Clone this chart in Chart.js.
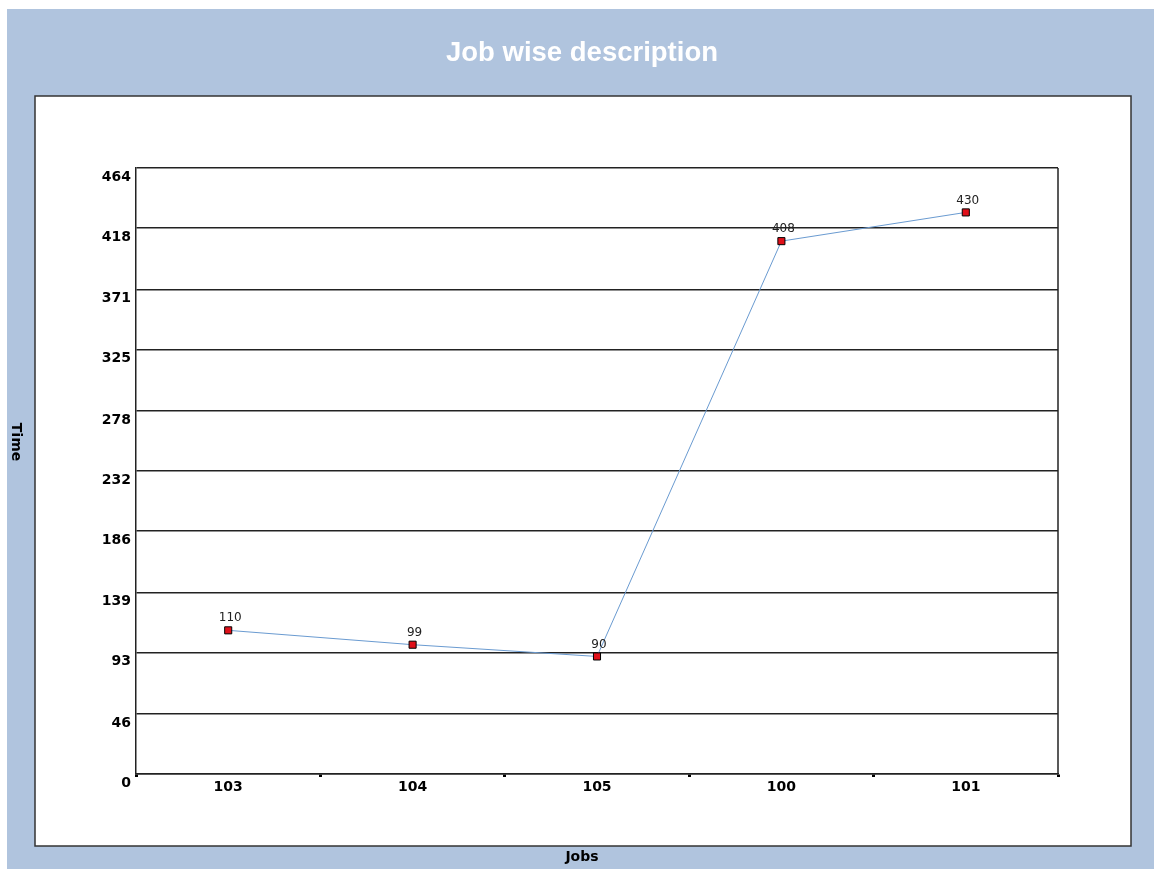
<!DOCTYPE html>
<html>
<head>
<meta charset="utf-8">
<title>Job wise description</title>
<script src="https://cdn.jsdelivr.net/npm/chart.js@4/dist/chart.umd.min.js"></script>
<style>
  body { margin: 0; background: #fff; }
  canvas { display: block; }
</style>
</head>
<body>
<canvas id="jobChart" width="1154" height="869"></canvas>
<script>
const jobs = ['103', '104', '105', '100', '101'];
const times = [110, 99, 90, 408, 430];
const yTicks = [0, 46, 93, 139, 186, 232, 278, 325, 371, 418, 464];

const FONT = "'DejaVu Sans', Verdana, sans-serif";

// background panels, title, right border of the plot, axis titles and point labels
const decor = {
  id: 'decor',
  beforeDraw(chart) {
    const c = chart.ctx;
    c.save();
    c.fillStyle = '#fff';
    c.fillRect(0, 0, chart.width, chart.height);
    c.fillStyle = '#B0C4DE';
    c.fillRect(7, 9, chart.width - 7, chart.height - 9);
    c.fillStyle = '#fff';
    c.fillRect(35, 96, 1096, 750);
    c.strokeStyle = '#333';
    c.lineWidth = 1.5;
    c.strokeRect(35, 96, 1096, 750);

    c.fillStyle = '#fff';
    c.font = "bold 27.5px 'Liberation Sans', Arial, sans-serif";
    c.textAlign = 'center';
    c.textBaseline = 'middle';
    c.fillText('Job wise description', 582, 53);
    c.restore();
  },
  afterDraw(chart) {
    const c = chart.ctx;
    const a = chart.chartArea;
    c.save();
    c.strokeStyle = '#222';
    c.lineWidth = 1.5;
    c.beginPath();
    c.moveTo(a.right, a.top);
    c.lineTo(a.right, a.bottom);
    c.stroke();

    c.fillStyle = '#000';
    c.font = 'bold 14px ' + FONT;
    c.textAlign = 'center';
    c.textBaseline = 'middle';
    c.fillText('Jobs', 582, 857);
    c.translate(16, 442);
    c.rotate(Math.PI / 2);
    c.fillText('Time', 0, 0);
    c.restore();
  },
  afterDatasetsDraw(chart) {
    const c = chart.ctx;
    const meta = chart.getDatasetMeta(0);
    c.save();
    c.fillStyle = '#222';
    c.font = '12px ' + FONT;
    c.textAlign = 'center';
    c.textBaseline = 'middle';
    meta.data.forEach((pt, i) => {
      c.fillText(String(times[i]), pt.x + 2, pt.y - 12);
    });
    c.restore();
  }
};

new Chart(document.getElementById('jobChart'), {
  type: 'line',
  data: {
    labels: jobs,
    datasets: [{
      label: 'Time',
      data: times,
      borderColor: '#6A9BD1',
      borderWidth: 1,
      pointStyle: 'rect',
      pointRadius: 5,
      pointHoverRadius: 5,
      pointBackgroundColor: '#E0101A',
      pointBorderColor: '#000',
      pointBorderWidth: 1,
      tension: 0
    }]
  },
  options: {
    responsive: false,
    animation: false,
    layout: { padding: { top: 168, left: 0, right: 96, bottom: 0 } },
    plugins: {
      legend: { display: false },
      tooltip: { enabled: false },
      title: { display: false }
    },
    scales: {
      x: {
        offset: true,
        grid: { drawOnChartArea: false, offset: true, color: '#000', tickLength: 3, tickWidth: 3 },
        border: { display: true, color: '#222', width: 1.5 },
        ticks: { color: '#000', padding: 2, font: { family: FONT, size: 14, weight: 'bold' } },
        afterFit(scale) { scale.height = 95; }
      },
      y: {
        min: 0,
        max: 464,
        afterBuildTicks(axis) { axis.ticks = yTicks.map(v => ({ value: v })); },
        grid: { color: '#222', lineWidth: 1.5, drawTicks: false },
        border: { display: true, color: '#222', width: 1.5 },
        ticks: {
          color: '#000',
          padding: 5,
          labelOffset: 9,
          font: { family: FONT, size: 14, weight: 'bold' }
        },
        afterFit(scale) { scale.width = 136; }
      }
    }
  },
  plugins: [decor]
});
</script>
</body>
</html>
